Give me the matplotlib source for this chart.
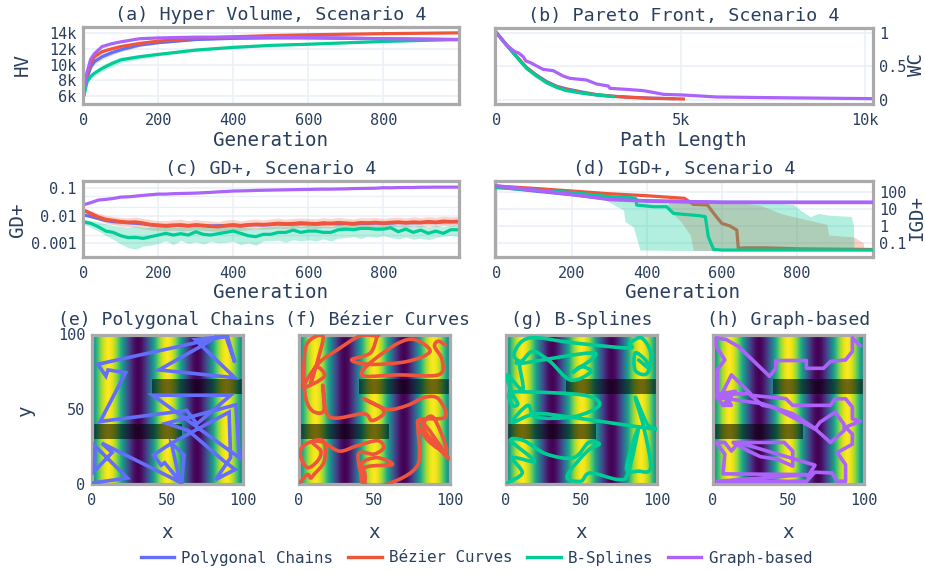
import numpy as np
import matplotlib
matplotlib.use('Agg')
import matplotlib.pyplot as plt
from matplotlib.lines import Line2D
from matplotlib.path import Path
from matplotlib.patches import PathPatch

plt.rcParams['font.family'] = ['DejaVu Sans Mono']

names = ['Polygonal Chains', 'Bézier Curves', 'B-Splines', 'Graph-based']
BLUE, RED, GREEN, PURPLE = '#636EFA', '#EF553B', '#00CC96', '#AB63FA'
TEXT = '#2a3f5f'
GRID = '#EBF0F8'
FRAME = '#AAAAAA'

# (a) hyper volume
hv_gens = [0, 5, 10, 20, 30, 50, 75, 100, 150, 200, 300, 400, 500, 600, 700, 800, 900, 999]
hv_blue = [5800, 7000, 8300, 9700, 10400, 11000, 11500, 11900, 12500, 12800, 13200, 13350, 13400, 13400, 13350, 13300, 13250, 13200]
hv_red = [5800, 7300, 8700, 10200, 11000, 11650, 12000, 12300, 12700, 13000, 13350, 13550, 13700, 13800, 13880, 13950, 14000, 14050]
hv_green = [5800, 6700, 7800, 8500, 8900, 9500, 10100, 10600, 11000, 11300, 11850, 12200, 12450, 12600, 12780, 12950, 13080, 13200]
hv_purple = [5800, 7600, 9000, 10700, 11400, 12300, 12650, 12900, 13300, 13400, 13500, 13500, 13500, 13450, 13400, 13300, 13250, 13200]
hv_blue_err = [0, 200, 300, 350, 350, 350, 300, 250, 200, 150, 100, 80, 60, 60, 60, 60, 60, 60]
hv_red_err = [0, 150, 200, 200, 200, 180, 150, 120, 100, 80, 60, 60, 60, 80, 100, 120, 100, 80]
hv_green_err = [0, 150, 250, 300, 350, 400, 400, 350, 300, 200, 150, 150, 130, 120, 120, 100, 80, 80]

# (b) pareto front
pf_green_x = [0, 272, 543, 815, 1087, 1359, 1630, 1902, 2355, 2717, 3170]
pf_green_y = [1, .817, .644, .47, .356, .257, .188, .139, .099, .074, .05]
pf_red_x = [0, 272, 543, 815, 1087, 1359, 1630, 1902, 2355, 2717, 3170, 3623, 4167, 4710, 5072]
pf_red_y = [1, .82, .65, .485, .365, .265, .195, .155, .105, .078, .055, .04, .025, .02, .015]
pf_blue_x = [0, 272, 543, 815, 1087, 1359, 1630, 1902, 2355, 2717, 3170, 3623, 4167, 4800]
pf_blue_y = [1, .82, .645, .48, .37, .275, .205, .165, .115, .08, .055, .04, .028, .02]
pf_purple_x = [0, 272, 498, 600, 725, 800, 906, 1268, 1540, 1812, 1993, 2446, 2717, 3034, 3080, 3533, 3986, 4393, 4529, 5072, 5978, 7428, 10190]
pf_purple_y = [1, .817, .718, .70, .644, .58, .559, .455, .436, .356, .322, .297, .238, .208, .173, .158, .139, .099, .084, .074, .045, .035, .02]

# (c) GD+
gd_gens = list(range(0, 1000, 20)) + [999]
gd_purple = [.024, .029, .036, .038, .041, .046, .047, .050, .053, .056,
             .059, .059, .061, .062, .063, .064, .066, .068, .071, .073,
             .076, .077, .078, .080, .081, .082, .083, .084, .085, .086,
             .087, .088, .089, .089, .090, .091, .093, .094, .095, .096,
             .100, .099, .101, .102, .102, .104, .104, .105, .105, .105, .105]
gd_red = [.0158, .0118, .0088, .0072, .0066, .0060, .0057, .0058, .0053, .0047,
          .0044, .0042, .0044, .0046, .0043, .0046, .0044, .0041, .0040, .0043,
          .0045, .0042, .0046, .0048, .0047, .0049, .0052, .0050, .0051, .0054,
          .0052, .0050, .0054, .0052, .0055, .0053, .0051, .0055, .0054, .0056,
          .0053, .0056, .0058, .0055, .0058, .0056, .0060, .0057, .0062, .0060, .0061]
gd_blue = [.0105, .0092, .0078, .0066, .0060, .0058, .0055, .0053, .0050, .0046,
           .0045, .0044, .0045, .0044, .0042, .0044, .0043, .0042, .0043, .0044,
           .0046, .0044, .0046, .0047, .0046, .0047, .0050, .0048, .0049, .0050,
           .0050, .0049, .0050, .0051, .0050, .0052, .0049, .0052, .0052, .0054,
           .0052, .0054, .0056, .0055, .0055, .0056, .0058, .0056, .0059, .0060, .0060]
gd_green = [.0060, .00524, .00397, .00277, .00248, .00188, .0016, .00164, .00151, .00174,
            .00199, .00229, .00199, .00223, .00199, .00262, .00211, .00199, .00223, .00248,
            .00277, .00229, .00188, .00174, .00211, .00211, .00248, .00248, .003, .00248,
            .00277, .00277, .00248, .00248, .00309, .00325, .00309, .00345, .00345, .00325,
            .00325, .00365, .00262, .00325, .00248, .003, .00229, .00277, .00229, .00309, .00309]
gd_green_lo = [.0050, .0038, .0028, .0019, .0014, .00095, .0007, .00062, .0008, .00085,
               .001, .00125, .0009, .0013, .001, .00115, .00095, .0012, .00105, .0011,
               .0012, .0009, .00105, .00085, .0012, .00125, .0013, .0011, .00135, .0012,
               .00135, .0012, .00145, .0012, .00155, .0016, .00175, .0015, .0018, .00165,
               .0019, .0016, .00145, .0017, .0014, .00155, .00135, .0016, .0018, .0019, .0018]
gd_green_hi = [.0072, .0066, .0060, .0050, .0044, .0041, .0038, .0042, .0036, .0039,
               .0040, .0042, .0037, .0040, .0036, .0041, .0038, .0036, .0040, .0042,
               .0044, .0039, .0036, .0035, .0038, .0040, .0043, .0041, .0045, .0041,
               .0044, .0043, .0042, .0040, .0046, .0047, .0045, .0049, .0047, .0046,
               .0048, .0051, .0044, .0047, .0042, .0045, .0040, .0044, .0041, .0045, .0045]
gd_red_lo = [.0140, .0095, .0068, .0054, .0048, .0042, .0040, .0038, .0033, .0030,
             .0029, .0028, .0030, .0028, .0029, .0031, .0029, .0028, .0027, .0029,
             .0030, .0029, .0031, .0033, .0032, .0033, .0035, .0034, .0035, .0037,
             .0036, .0034, .0037, .0036, .0038, .0036, .0035, .0038, .0037, .0039,
             .0037, .0039, .0040, .0038, .0041, .0039, .0042, .0040, .0044, .0042, .0043]
gd_red_hi = [.0175, .0150, .0120, .0100, .0092, .0086, .0082, .0088, .0078, .0072,
             .0066, .0065, .0070, .0074, .0064, .0072, .0066, .0064, .0060, .0070,
             .0072, .0064, .0071, .0074, .0070, .0076, .0080, .0074, .0078, .0082,
             .0078, .0076, .0084, .0078, .0085, .0080, .0076, .0084, .0082, .0086,
             .0078, .0086, .0088, .0082, .0090, .0084, .0092, .0086, .0094, .0090, .0092]

# (d) IGD+
igd_purple_x = [0, 100, 200, 300, 400, 500, 600, 800, 999]
igd_purple_y = [215, 125, 70, 35, 28.4, 25.8, 23.6, 23.6, 23.6]
igd_blue_x = [0, 100, 200, 300, 400, 500, 600, 800, 999]
igd_blue_y = [190, 110, 66, 38, 29, 26, 24, 23.6, 23.6]
igd_red_x = [0, 100, 200, 300, 400, 500, 524, 562, 582, 600, 622, 640, 644, 660, 720, 800, 900, 999]
igd_red_y = [215, 157, 110, 76, 58, 41, 18, 16.4, 4.2, 1.37, .96, .55, .0464, .05, .05, .044, .042, .04]
igd_green_x = [0, 100, 200, 300, 360, 371, 373, 418, 453, 471, 542, 556, 564, 578, 600, 800, 999]
igd_green_y = [172, 125, 91, 50.8, 44, 39.5, 16.4, 13.1, 13.1, 5.3, 3.85, 3.4, .225, .0406, .037, .037, .037]
igd_green_band_x = [293, 338, 342, 364, 382, 500, 700, 791, 809, 836, 858, 884, 945, 951, 952]
igd_green_lo = [30, 8.3, 1.7, .87, .037, .035, .035, .035, .035, .035, .035, .035, .035, .035, .035]
igd_green_hi = [38, 28, 28, 27, 27, 27, 25, 18, 8.3, 3.4, 5.3, 4.2, 3.5, 1, .04]
igd_red_band_x = [458, 489, 516, 524, 600, 702, 760, 836, 880, 885, 951, 977, 978, 999]
igd_red_lo = [8.3, 2, .28, .035, .035, .035, .035, .035, .035, .035, .035, .035, .035, .035]
igd_red_hi = [44, 38, 36, 32, 30, 16, 5, 2, 1.2, .28, .22, .1, .05, .05]

# background field of the maps, read across x from 0 to 100
field_x = [0, 2.5, 5, 7.5, 10, 12.5, 15, 17.5, 20, 22.5, 25, 27.5, 30, 32.5, 35, 37.5, 40, 42.5, 45, 47.5, 50,
           52.5, 55, 57.5, 60, 62.5, 65, 67.5, 70, 72.5, 75, 77.5, 80, 82.5, 85, 87.5, 90, 92.5, 95, 97.5, 100]
field_v = [.5, .69, .85, .96, 1, .96, .85, .69, .5, .31, .15, .04, 0, .04, .15, .31, .5, .69, .85, .96, 1,
           .96, .85, .69, .5, .31, .15, .04, 0, .04, .15, .31, .5, .69, .85, .96, 1, .96, .85, .69, .5]
obstacles = [(0, 60, 30, 40), (40, 100, 60, 70)]

poly_x = [.7, 23.6, 2.2, 1.8, 13.5, 6.7, 59.6, 61.1, 52.8, 58.4, 48.3, 46, 40.9, 52.8, 91, 92, 82, 95, 87.6, 64, 49.4, 95.5, 97.8, 40.4, 92.1, 69.7, 62.9, 5.6, 22.5, 10.8, 9.4, 4, 88.8, 94.8, 89.9, 68.5, 94.8, 44.5, 74.2, 82]
poly_y = [.7, 4, 25.5, 8.6, 21, 27.3, .7, 19.4, 27.3, 1.8, 14.2, 12.6, 19.4, 27.3, 48.1, 17.6, 2.9, 9.7, 15.3, 35.7, 40.6, 53, 17.6, 59.4, 59.4, 40.2, 49.2, 41.8, 74.5, 76.3, 72.2, 80.1, 98.9, 81.3, 98.9, 96.6, 71.1, 76.3, 93.2, 98]

bez_x = [97, 92.5, 90, 95, 92.5, 65.5, 45, 41.8, 49.7, 65.5, 76.7, 87, 72, 47.4, 35, 47.4, 52, 52, 40.6, 26, 13.5, 3.4, 17, 11.3, 8, 12.4, 16, 5.6, 3.4, 4.5, 9, 16, 17, 16, 20.3, 43, 48.5, 56.4, 54, 43, 58.7, 72, 83.5, 92.5, 97, 79, 85.8, 98, 89, 82.4, 92.5, 99, 80, 79, 58.7, 43, 44, 62, 52, 41.8, 44, 43, 39.5, 50, 56.4, 52, 38.4, 27, 16, 9, 14.7, 12.4, 5.6, 1, 4.5, 16, 17, 10, 7.9, 5.6, 0]
bez_y = [93, 95.5, 92, 83, 73, 73, 72, 75, 83, 94, 96.6, 88.7, 82, 80, 83, 87.6, 99, 99, 99, 90, 81, 65, 72, 78.6, 67, 82, 99, 94, 76, 58, 49, 48, 56, 66, 45, 47, 42.4, 47, 51.5, 57, 50, 52.6, 58, 57, 44.7, 42.4, 29, 22, 44.7, 38, 24.4, 17.6, 42, 13, 0, 0, 11, 13, 17.6, 14, 6, 0, 20, 20, 24.4, 29, 25.5, 22, 28, 28, 22, 15.3, 11, 20, 26.6, 29, 15.3, 6.3, 4, 6.3, 0]

spl_x = [1, 11, 4.5, 19, 3.4, 12, 27, 45, 55, 62, 54, 40.6, 49.7, 56, 74.5, 81, 88, 80, 88, 96, 91.4, 85.8, 93.7, 99, 43, 20, 4.5, 14.7, 20.3, 45, 62, 52, 13.5, 2.3, 4.5, 8, 4, 1, 11.3, 9, 11.3, 58.7, 45, 50, 56.4, 43, 29.3, 18, 10, 5.6, 15.8, 45, 81, 82.4, 90, 96, 93.7, 85.8, 85.8, 92.5, 95, 88]
spl_y = [.7, 7.4, 17.6, 15.3, 29, 29, 20, 17.6, 27.8, 26.6, 22, 5.2, 1.8, 7.4, 3, 7.4, 38, 11, 8.6, 11, 38, 58, 40, 36.8, 44.7, 47, 41.3, 52.6, 44.7, 45, 52.6, 59.4, 61.6, 60.5, 52.6, 53.7, 61, 73, 62.8, 80.8, 80.8, 87.6, 75, 78.6, 75, 69.5, 82, 88.7, 82, 87.6, 97.7, 94.4, 91, 94.4, 97.7, 87.6, 74, 76, 87.6, 83, 77.4, 83]

graph_x = [97.7, 92.5, 92.5, 88, 78, 73.4, 62, 62, 41.8, 41.8, 37.7, 17, 9, 2.3, 2.3, 8, 3, 3, 6.8, 12.4, 6.8, 12.4, 25, 3, 15, 6.8, 12.4, 3, 33, 53, 66.6, 78, 87, 87, 81, 71, 67.7, 62, 39.5, 33, 25, 48.5, 53, 78, 81, 88, 92.5, 92.5, 97.7, 88, 92.5, 92.5, 82.4, 88, 88, 82.4, 79, 67.7, 62, 3, 62, 6.8, 8, 2.3, 8, 12.4, 17, 13.5, 23.7, 31.6, 43, 53, 53, 47.4, 17, 67.7, 63]
graph_y = [92.5, 97.7, 88.7, 83, 82, 77.4, 77.4, 82.6, 82.6, 77.4, 72, 92, 96.6, 97.7, 92, 83, 76.3, 58, 52.6, 52.6, 61.6, 73, 60.5, 60, 62, 52.6, 57, 58, 53.7, 47, 38, 27.8, 35.7, 40, 48, 41.3, 36.8, 40, 51.5, 52.6, 59.4, 57, 52.6, 52.6, 57, 57, 51.5, 43.6, 42, 38, 33.4, 26.6, 21, 13, 1.8, 1.8, 7.4, 7.9, 1.8, 1.8, 6.3, 6.8, 20, 27.8, 27.8, 22, 27.8, 27.8, 22, 18.3, 16.5, 12, 22, 27.8, 27.8, 12.6, 5]

fig = plt.figure(figsize=(9.25, 5.72), dpi=100, facecolor='white')


def px_axes(l, r, t, b):
    return fig.add_axes([l / 925, 1 - b / 572, (r - l) / 925, (b - t) / 572])


def dress(ax, title, xlabel, ylabel, xl_pos, yl_pos, pad=5, title_size=13.2):
    for s in ax.spines.values():
        s.set_color(FRAME)
        s.set_linewidth(2.3)
    ax.set_axisbelow(True)
    ax.grid(True, color=GRID, lw=1.2)
    ax.tick_params(length=0, labelcolor=TEXT, labelsize=11, pad=4.5)
    ax.tick_params(axis='x', pad=6.5)
    ax.set_title(title, color=TEXT, fontsize=title_size, pad=pad)
    ax.set_xlabel(xlabel, color=TEXT, fontsize=13.8, va='center')
    ax.xaxis.set_label_coords(xl_pos[0] / 925, 1 - xl_pos[1] / 572, transform=fig.transFigure)
    if ylabel:
        ax.set_ylabel(ylabel, color=TEXT, fontsize=13.8, va='center')
        ax.yaxis.set_label_coords(yl_pos[0] / 925, 1 - yl_pos[1] / 572, transform=fig.transFigure)


gen_ticks = [0, 200, 400, 600, 800]

# a
ax = px_axes(82.5, 459, 27, 103.7)
for vals, err, c in [(hv_blue, hv_blue_err, BLUE), (hv_red, hv_red_err, RED), (hv_green, hv_green_err, GREEN)]:
    ax.fill_between(hv_gens, np.array(vals) - err, np.array(vals) + err, color=c, alpha=.25, lw=0)
    ax.plot(hv_gens, vals, color=c, lw=2.3)
ax.plot(hv_gens, hv_purple, color=PURPLE, lw=2.3)
ax.set_xlim(-2, 1002)
ax.set_ylim(5000, 14800)
ax.set_xticks(gen_ticks)
ax.set_yticks([6000, 8000, 10000, 12000, 14000], ['6k', '8k', '10k', '12k', '14k'])
dress(ax, '(a) Hyper Volume, Scenario 4', 'Generation', 'HV', (270, 140), (22, 65))

# b
ax = px_axes(495, 873, 27.7, 103.7)
ax.plot(pf_blue_x, pf_blue_y, color=BLUE, lw=2.3)
ax.plot(pf_red_x, pf_red_y, color=RED, lw=2.3)
ax.plot(pf_green_x, pf_green_y, color=GREEN, lw=2.3)
ax.plot(pf_purple_x, pf_purple_y, color=PURPLE, lw=2.3)
ax.set_xlim(-38, 10217)
ax.set_ylim(-.055, 1.074)
ax.set_xticks([0, 5000, 10000], ['0', '5k', '10k'])
ax.set_yticks([0, .5, 1], ['0', '0.5', '1'])
ax.yaxis.tick_right()
ax.yaxis.set_label_position('right')
dress(ax, '(b) Pareto Front, Scenario 4', 'Path Length', 'WC', (683, 140), (917, 65))

# c
ax = px_axes(82.5, 459, 180.7, 257)
ax.fill_between(gd_gens, gd_red_lo, gd_red_hi, color=RED, alpha=.25, lw=0)
ax.fill_between(gd_gens, gd_green_lo, gd_green_hi, color=GREEN, alpha=.28, lw=0)
ax.plot(gd_gens, gd_purple, color=PURPLE, lw=2.3)
ax.plot(gd_gens, gd_blue, color=BLUE, lw=2.3)
ax.plot(gd_gens, gd_green, color=GREEN, lw=2.3)
ax.plot(gd_gens, gd_red, color=RED, lw=2.6)
ax.set_yscale('log')
ax.set_xlim(-2, 1002)
ax.set_ylim(10 ** -3.49, 10 ** -.748)
ax.set_xticks(gen_ticks)
ax.set_yticks([.001, .01, .1], ['0.001', '0.01', '0.1'])
ax.set_yticks([.002, .005, .02, .05], minor=True)
ax.set_yticklabels([], minor=True)
ax.tick_params(which='minor', length=0)
ax.grid(True, which='minor', axis='y', color=GRID, lw=1)
dress(ax, '(c) GD+, Scenario 4', 'Generation', 'GD+', (270, 292), (17, 220))

# d
ax = px_axes(495, 873, 180.7, 257)
ax.plot(igd_red_x, igd_red_y, color=RED, lw=2.3, zorder=2)
ax.fill_between(igd_red_band_x, igd_red_lo, igd_red_hi, color=RED, alpha=.28, lw=0, zorder=3)
ax.fill_between(igd_green_band_x, igd_green_lo, igd_green_hi, color=GREEN, alpha=.3, lw=0, zorder=3)
ax.plot(igd_blue_x, igd_blue_y, color=BLUE, lw=2.3, zorder=4)
ax.plot(igd_green_x, igd_green_y, color=GREEN, lw=2.3, zorder=5)
ax.plot(igd_purple_x, igd_purple_y, color=PURPLE, lw=2.6, zorder=6)
ax.set_yscale('log')
ax.set_xlim(-4.5, 1003)
ax.set_ylim(10 ** -1.84, 10 ** 2.647)
ax.set_xticks(gen_ticks)
ax.set_yticks([.1, 1, 10, 100], ['0.1', '1', '10', '100'])
ax.minorticks_off()
ax.yaxis.tick_right()
ax.yaxis.set_label_position('right')
dress(ax, '(d) IGD+, Scenario 4', 'Generation', 'IGD+', (683, 292), (917, 218))


def smooth_patch(xs, ys, c):
    # cubic segments that pass through the read points
    p = np.column_stack([xs, ys])
    verts = [p[0]]
    codes = [Path.MOVETO]
    for i in range(len(p) - 1):
        before = p[max(i - 1, 0)]
        after = p[min(i + 2, len(p) - 1)]
        verts += [p[i] + (p[i + 1] - before) / 6, p[i + 1] - (after - p[i]) / 6, p[i + 1]]
        codes += [Path.CURVE4] * 3
    return PathPatch(Path(verts, codes), fc='none', ec=c, lw=2.6, capstyle='round', joinstyle='round', zorder=4)


map_titles = ['(e) Polygonal Chains', '(f) Bézier Curves', '(g) B-Splines', '(h) Graph-based']
map_left = [91.7, 298.7, 505.7, 712.7]
for i in range(4):
    ax = px_axes(map_left[i], map_left[i] + 151, 334.5, 484)
    ax.imshow([field_v], cmap='viridis', extent=(field_x[0], field_x[-1], 0, 100), aspect='auto',
              origin='lower', interpolation='bilinear', vmin=0, vmax=1, zorder=1)
    for x0, x1, y0, y1 in obstacles:
        ax.fill_between([x0, x1], y0, y1, color='black', alpha=.55, lw=0, zorder=2)
    if i == 0:
        ax.plot(poly_x, poly_y, color=BLUE, lw=2.6, solid_joinstyle='miter', zorder=4)
    elif i == 1:
        ax.add_patch(smooth_patch(bez_x, bez_y, RED))
    elif i == 2:
        ax.add_patch(smooth_patch(spl_x, spl_y, GREEN))
    else:
        ax.plot(graph_x, graph_y, color=PURPLE, lw=2.6, solid_joinstyle='round', zorder=4)
    ax.set_xlim(0, 100)
    ax.set_ylim(0, 100)
    ax.set_xticks([0, 50, 100])
    ax.set_yticks([0, 50, 100])
    dress(ax, map_titles[i], 'x', 'y' if i == 0 else None, (map_left[i] + 75, 533), (25, 410), pad=7, title_size=13.1)
    ax.grid(False)
    if i == 1:
        ax.title.set_x(.52)
    if i > 0:
        ax.tick_params(labelleft=False)

handles = [Line2D([], [], color=c, lw=2.4) for c in [BLUE, RED, GREEN, PURPLE]]
leg = fig.legend(handles, names, ncol=4, loc='center', bbox_to_anchor=(477 / 925, 1 - 558 / 572), frameon=False,
                 fontsize=11.4, handlelength=2.1, handletextpad=.45, columnspacing=.95, labelcolor=TEXT)

fig.savefig('out.png', dpi=100)
